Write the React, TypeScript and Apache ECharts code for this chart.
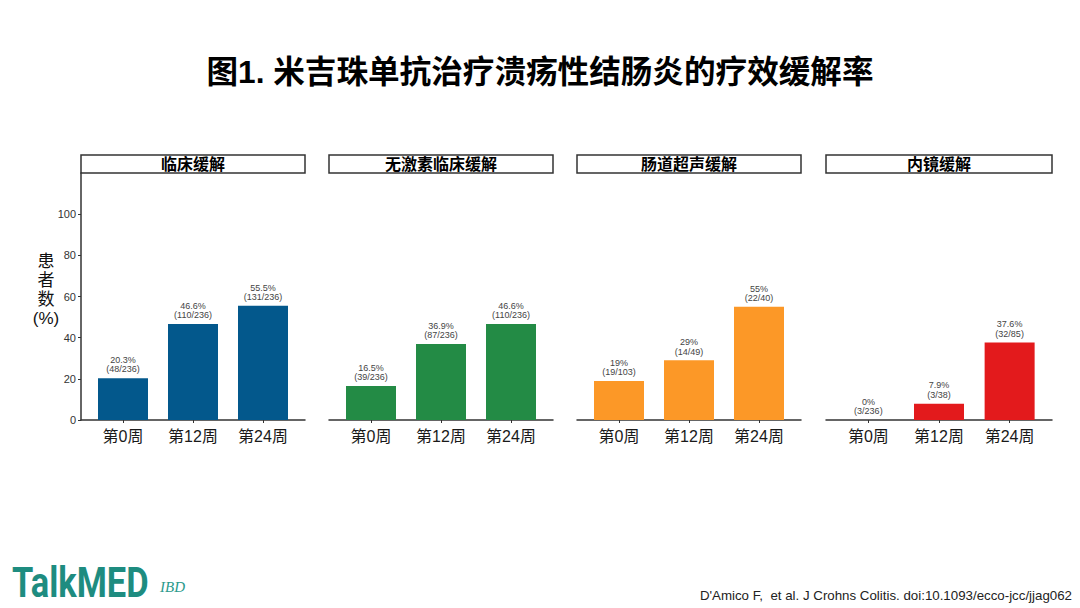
import React, { useEffect, useRef } from "react";
import * as echarts from "echarts";

const categories = ["第0周", "第12周", "第24周"];
const categoryPositions = [1, 2, 3];
const panelTitles = ["临床缓解", "无激素临床缓解", "肠道超声缓解", "内镜缓解"];
const clinicalValues = [20.3, 46.6, 55.5];
const clinicalCounts = ["48/236", "110/236", "131/236"];
const clinicalPct = ["20.3%", "46.6%", "55.5%"];
const steroidFreeValues = [16.5, 36.9, 46.6];
const steroidFreeCounts = ["39/236", "87/236", "110/236"];
const steroidFreePct = ["16.5%", "36.9%", "46.6%"];
const ultrasoundValues = [19, 29, 55];
const ultrasoundCounts = ["19/103", "14/49", "22/40"];
const ultrasoundPct = ["19%", "29%", "55%"];
const endoscopicValues = [0, 7.9, 37.6];
const endoscopicCounts = ["3/236", "3/38", "32/85"];
const endoscopicPct = ["0%", "7.9%", "37.6%"];
const yTicks = [0, 20, 40, 60, 80, 100];

const panels = [
  { values: clinicalValues, counts: clinicalCounts, pct: clinicalPct, color: "#03588C" },
  { values: steroidFreeValues, counts: steroidFreeCounts, pct: steroidFreePct, color: "#238B45" },
  { values: ultrasoundValues, counts: ultrasoundCounts, pct: ultrasoundPct, color: "#FC9827" },
  { values: endoscopicValues, counts: endoscopicCounts, pct: endoscopicPct, color: "#E31A1C" },
];

const layout = [
  { left: 81, width: 224 },
  { left: 329, width: 224 },
  { left: 577, width: 224 },
  { left: 826, width: 226 },
];

export default function App() {
  const ref = useRef<HTMLDivElement>(null);
  useEffect(() => {
    document.body.style.margin = "0";
    if (!ref.current) return;
    const chart = echarts.init(ref.current, null, { renderer: "svg" });
    const font = "Arial, 'Liberation Sans', 'Noto Sans CJK SC', sans-serif";
    const grids = layout.map((l) => ({ left: l.left, width: l.width, top: 173, height: 247 }));
    const xAxes = layout.map((_, i) => ({
      type: "value",
      gridIndex: i,
      min: 0.4,
      max: 3.6,
      splitLine: { show: false },
      axisLine: { show: true, onZero: false, lineStyle: { color: "#333", width: 1.5 } },
      axisTick: { show: true, length: 3, customValues: categoryPositions, lineStyle: { color: "#333" } },
      axisLabel: {
        customValues: categoryPositions,
        color: "#1a1a1a",
        fontSize: 16,
        margin: 8,
        fontFamily: font,
        formatter: (v: number) => categories[Math.round(v) - 1] ?? "",
      },
    }));
    const yAxes = layout.map((_, i) => ({
      type: "value",
      gridIndex: i,
      min: 0,
      max: 120,
      show: i === 0,
      splitLine: { show: false },
      axisLine: { show: true, lineStyle: { color: "#333", width: 1.5 } },
      axisTick: { show: true, length: 3, customValues: yTicks, lineStyle: { color: "#333" } },
      axisLabel: { customValues: yTicks, color: "#333", fontSize: 11, margin: 5, fontFamily: font },
    }));
    const series = panels.map((p, i) => ({
      type: "bar",
      xAxisIndex: i,
      yAxisIndex: i,
      barWidth: 50,
      data: p.values.map((v, j) => [categoryPositions[j], v]),
      itemStyle: { color: p.color },
      label: {
        show: true,
        position: "top",
        distance: 4,
        color: "#444",
        fontSize: 9,
        lineHeight: 9.5,
        fontFamily: font,
        formatter: (params: any) => `${p.pct[params.dataIndex]}\n(${p.counts[params.dataIndex]})`,
      },
    }));
    const graphics: any[] = [];
    layout.forEach((l, i) => {
      graphics.push({
        type: "rect",
        shape: { x: l.left, y: 155, width: l.width, height: 18 },
        style: { fill: "#fff", stroke: "#333", lineWidth: 1.5 },
      });
      graphics.push({
        type: "text",
        x: l.left + l.width / 2,
        y: 164.5,
        style: {
          text: panelTitles[i],
          fill: "#000",
          font: `bold 16px ${font}`,
          align: "center",
          verticalAlign: "middle",
        },
      });
    });
    graphics.push({
      type: "text",
      x: 46,
      y: 290,
      style: {
        text: "患\n者\n数\n(%)",
        fill: "#111",
        font: `17px ${font}`,
        lineHeight: 19,
        align: "center",
        verticalAlign: "middle",
      },
    });
    graphics.push({
      type: "text",
      x: 540,
      y: 72,
      style: {
        text: "图1. 米吉珠单抗治疗溃疡性结肠炎的疗效缓解率",
        fill: "#000",
        font: `bold 31.6px ${font}`,
        align: "center",
        verticalAlign: "middle",
      },
    });
    graphics.push({
      type: "text",
      x: 12,
      y: 582,
      scaleX: 0.82,
      style: {
        text: "TalkMED",
        fill: "#1E8C80",
        font: `bold 42px Roboto, Arial, sans-serif`,
        align: "left",
        verticalAlign: "middle",
      },
    });
    graphics.push({
      type: "text",
      x: 160,
      y: 587,
      style: {
        text: "IBD",
        fill: "#2A9A8C",
        font: `italic 15px 'Liberation Serif', 'DejaVu Serif', serif`,
        align: "left",
        verticalAlign: "middle",
      },
    });
    graphics.push({
      type: "text",
      x: 1072,
      y: 595,
      style: {
        text: "D'Amico F,  et al. J Crohns Colitis. doi:10.1093/ecco-jcc/jjag062",
        fill: "#222",
        font: `13.3px ${font}`,
        align: "right",
        verticalAlign: "middle",
      },
    });
    chart.setOption({
      animation: false,
      backgroundColor: "#fff",
      grid: grids,
      xAxis: xAxes,
      yAxis: yAxes,
      series,
      graphic: graphics,
    });
    return () => chart.dispose();
  }, []);
  return <div ref={ref} style={{ width: 1080, height: 608 }} />;
}
